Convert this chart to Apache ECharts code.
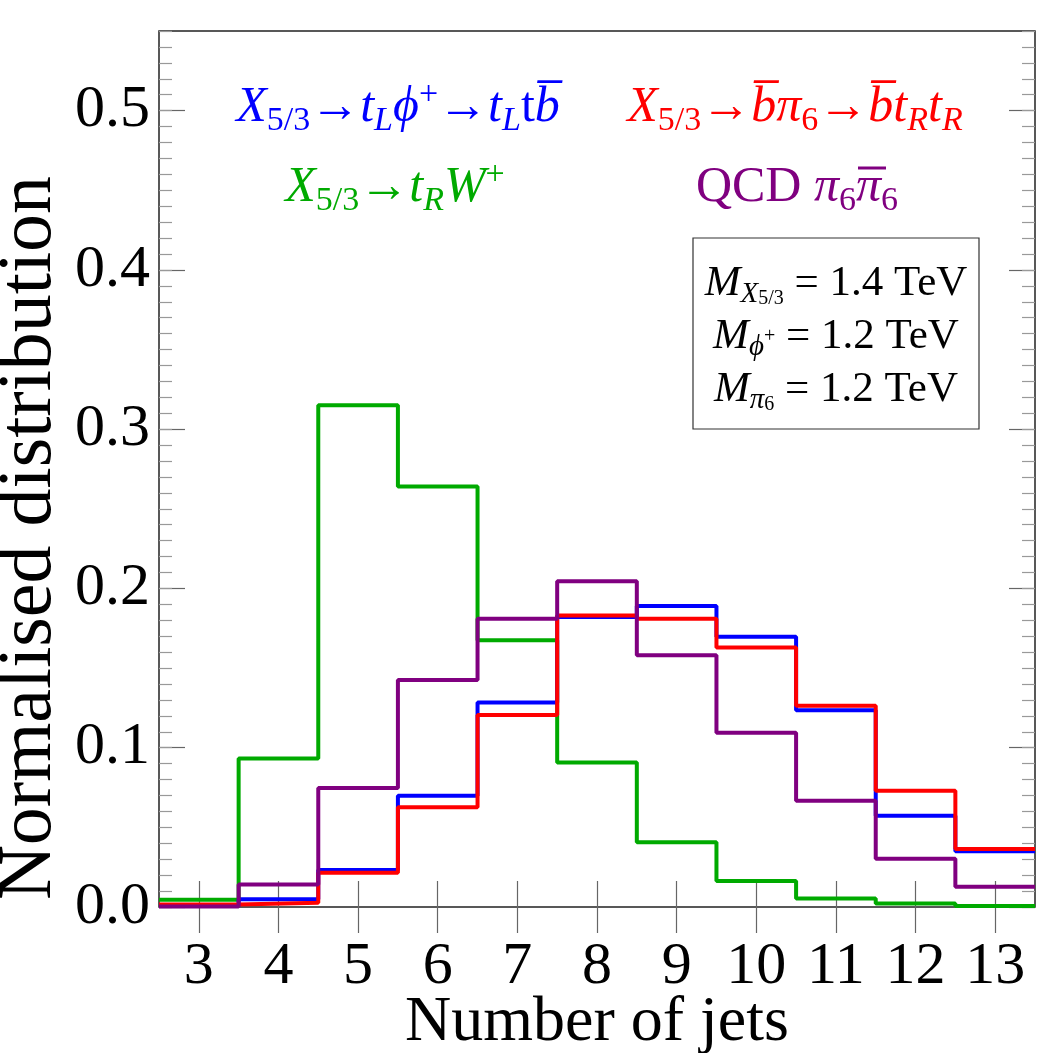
<!DOCTYPE html>
<html>
<head>
<meta charset="utf-8">
<script src="https://cdn.jsdelivr.net/npm/echarts@6/dist/echarts.min.js"></script>
<style>
  html, body { margin: 0; padding: 0; background: #fff; }
  #chart { width: 1042px; height: 1053px; }
</style>
</head>
<body>
<div id="chart"></div>
<script>
// bin centres (number of jets), each bin one unit wide
const binCenters = [3, 4, 5, 6, 7, 8, 9, 10, 11, 12, 13]
const xTicks = [3, 4, 5, 6, 7, 8, 9, 10, 11, 12, 13]
const yTicks = [0, 0.1, 0.2, 0.3, 0.4, 0.5]

// normalised distributions
const tRW = [0.0045, 0.0933, 0.315, 0.264, 0.1675, 0.0908, 0.0406, 0.0163, 0.0053, 0.0022, 0.0006]
const tLPhi = [0.001, 0.0048, 0.0232, 0.0698, 0.1284, 0.182, 0.189, 0.1696, 0.1236, 0.0573, 0.035]
const bPi6 = [0.0015, 0.0027, 0.0215, 0.0627, 0.1205, 0.183, 0.181, 0.163, 0.1263, 0.073, 0.0364]
const qcdPi6 = [0.0003, 0.0142, 0.0747, 0.1426, 0.181, 0.2045, 0.158, 0.1094, 0.0667, 0.0303, 0.0127]

const FONT = '"Liberation Serif", "DejaVu Serif", serif'
const X_MIN = 2.5
const X_MAX = 13.5
const Y_MAX = 0.55

const yMinor = []
for (let i = 0; i <= 55; i++) yMinor.push(+(i * 0.01).toFixed(2))

// histogram outline: left edge of each bin, plus closing right edge
function steps(values) {
  const pts = binCenters.map((c, i) => [c - 0.5, values[i]])
  const last = binCenters.length - 1
  pts.push([binCenters[last] + 0.5, values[last]])
  return pts
}

function histSeries(name, values, color) {
  return {
    name,
    type: 'line',
    step: 'end',
    data: steps(values),
    showSymbol: false,
    lineStyle: { width: 4, color },
    itemStyle: { color },
    emphasis: { disabled: true },
  }
}

const tickColor = '#666'

function xAxisOf(position, withLabels) {
  return {
    type: 'value',
    position,
    min: X_MIN,
    max: X_MAX,
    axisLine: { show: false },
    splitLine: { show: false },
    axisTick: {
      show: true,
      inside: true,
      length: 26,
      customValues: xTicks,
      lineStyle: { color: tickColor, width: 1.2 },
    },
    axisLabel: withLabels
      ? { customValues: xTicks, fontFamily: FONT, fontSize: 60, color: '#000', margin: 30 }
      : { show: false },
    name: withLabels ? 'Number of jets' : '',
    nameLocation: 'middle',
    nameGap: 84,
    nameMoveOverlap: false,
    nameTextStyle: { fontFamily: FONT, fontSize: 64, color: '#000' },
  }
}

function yAxisOf(position, major) {
  return {
    type: 'value',
    position,
    min: 0,
    max: Y_MAX,
    axisLine: { show: false },
    splitLine: { show: false },
    axisTick: {
      show: true,
      inside: true,
      length: major ? 26 : 13,
      customValues: major ? yTicks : yMinor,
      lineStyle: { color: major ? tickColor : '#999', width: 1.2 },
    },
    axisLabel: major && position === 'left'
      ? {
          customValues: yTicks,
          formatter: (v) => v.toFixed(1),
          fontFamily: FONT,
          fontSize: 60,
          color: '#000',
          margin: 9,
        }
      : { show: false },
  }
}

const base = { fontFamily: FONT, fontSize: 50, fontStyle: 'italic', lineHeight: 60 }
function richFor(color) {
  return {
    i: { ...base, fill: color },
    n: { ...base, fontStyle: 'normal', fill: color },
    sub: { fontFamily: FONT, fontSize: 34, fill: color, lineHeight: 34, verticalAlign: 'bottom' },
    isub: { fontFamily: FONT, fontSize: 34, fontStyle: 'italic', fill: color, lineHeight: 34, verticalAlign: 'bottom' },
    sup: { fontFamily: FONT, fontSize: 34, fill: color, lineHeight: 34, verticalAlign: 'top' },
  }
}

const boxBase = { fontFamily: FONT, fontSize: 43, lineHeight: 50, fill: '#000' }
const boxRich = {
  m: { ...boxBase, fontStyle: 'italic' },
  n: { ...boxBase },
  s: { fontFamily: FONT, fontSize: 29, fontStyle: 'italic', lineHeight: 29, verticalAlign: 'bottom', fill: '#000' },
  ss: { fontFamily: FONT, fontSize: 20, lineHeight: 12, verticalAlign: 'bottom', fill: '#000' },
  sp: { fontFamily: FONT, fontSize: 20, lineHeight: 20, fill: '#000' },
}

function label(x, y, text, rich, align) {
  return {
    type: 'text',
    x,
    y,
    z: 100,
    style: { text, rich, align: align || 'center', verticalAlign: 'middle' },
  }
}

// purple label is split so the bar over the second pi can be drawn
const qcdSplitX = 856

const option = {
  animation: false,
  backgroundColor: '#fff',
  grid: {
    left: 159,
    right: 7,
    top: 31,
    bottom: 146,
    containLabel: false,
    outerBoundsMode: 'none',
    show: true,
    borderColor: '#222',
    borderWidth: 1.5,
    backgroundColor: 'transparent',
  },
  xAxis: [xAxisOf('bottom', true), xAxisOf('top', false)],
  yAxis: [
    yAxisOf('left', true),
    yAxisOf('left', false),
    yAxisOf('right', true),
    yAxisOf('right', false),
  ],
  series: [
    histSeries('X→tRW+', tRW, '#00aa00'),
    histSeries('X→tLφ+→tLtb', tLPhi, '#0000ff'),
    histSeries('X→bπ6→btRtR', bPi6, '#ff0000'),
    histSeries('QCD π6π6', qcdPi6, '#800080'),
  ],
  graphic: [
    {
      type: 'text',
      x: 30,
      y: 538,
      rotation: Math.PI / 2,
      style: {
        text: 'Normalised distribution',
        fontFamily: FONT,
        fontSize: 76,
        fill: '#000',
        align: 'center',
        verticalAlign: 'middle',
      },
    },
    label(398, 108,
      '{i|X}{sub|5/3}{n|→}{i|t}{isub|L}{i|ϕ}{sup|+}{n|→}{i|t}{isub|L}{n|t}{i|b\u0305}',
      richFor('#0000ff')),
    label(795, 108,
      '{i|X}{sub|5/3}{n|→}{i|b\u0305}{i|π}{sub|6}{n|→}{i|b\u0305}{i|t}{isub|R}{i|t}{isub|R}',
      richFor('#ff0000')),
    label(395, 188,
      '{i|X}{sub|5/3}{n|→}{i|t}{isub|R}{i|W}{sup|+}',
      richFor('#00aa00')),
    label(qcdSplitX, 188, '{n|QCD }{i|π}{sub|6}', richFor('#800080'), 'right'),
    label(qcdSplitX, 188, '{i|π}{sub|6}', richFor('#800080'), 'left'),
    {
      type: 'line',
      z: 100,
      shape: { x1: qcdSplitX + 2, y1: 168, x2: qcdSplitX + 30, y2: 168 },
      style: { stroke: '#800080', lineWidth: 3 },
    },
    {
      type: 'rect',
      z: 90,
      shape: { x: 693, y: 238, width: 286, height: 191 },
      style: { fill: '#fff', stroke: '#333', lineWidth: 1.2 },
    },
    label(836, 284, '{m|M}{s|X}{ss|5/3}{n| = 1.4 TeV}', boxRich),
    label(836, 337, '{m|M}{s|ϕ}{sp|+}{n| = 1.2 TeV}', boxRich),
    label(836, 390, '{m|M}{s|π}{ss|6}{n| = 1.2 TeV}', boxRich),
  ],
}

const chart = echarts.init(document.getElementById('chart'), null, { renderer: 'canvas' })
chart.setOption(option)
</script>
</body>
</html>
